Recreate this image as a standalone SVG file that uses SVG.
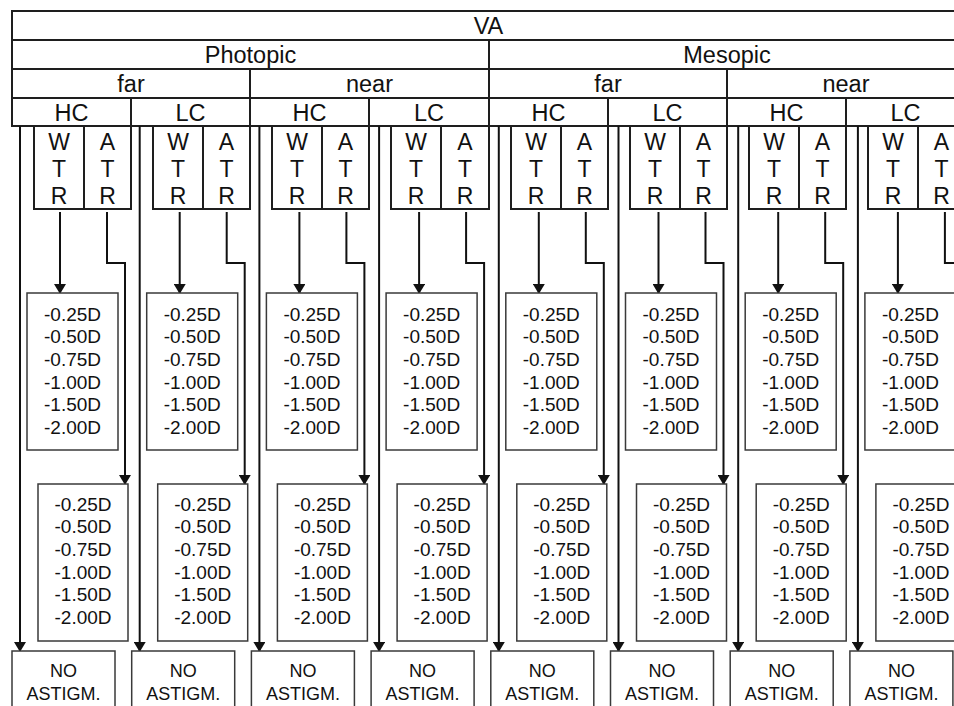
<svg xmlns="http://www.w3.org/2000/svg" width="954" height="706" viewBox="0 0 954 706">
<style>
text{font-family:"Liberation Sans",Arial,sans-serif;fill:#111;text-anchor:middle}
.h{font-size:23.5px}
.w{font-size:23px}
.r{font-size:19px}
.n{font-size:18px}
.hc{fill:#fff;stroke:#1e1e1e;stroke-width:2}
.wb{fill:#fff;stroke:#1e1e1e;stroke-width:2}
.rb{fill:#fff;stroke:#3a3a3a;stroke-width:1.5}
.c{fill:none;stroke:#111;stroke-width:2;marker-end:url(#ah)}
</style>
<defs>
<marker id="ah" viewBox="0 0 10 12" markerWidth="10" markerHeight="12" refX="9" refY="6" orient="auto" markerUnits="userSpaceOnUse">
<path d="M0,0 L10,6 L0,12 z" fill="#111"/>
</marker>
</defs>
<rect width="954" height="706" fill="#fff"/>

<g id="header">
<g id="h-va"><rect class="hc" x="12" y="11" width="953" height="29"/><text class="h" x="488.5" y="34">VA</text></g>
<g id="h-photopic"><rect class="hc" x="12" y="40" width="477" height="29"/><text class="h" x="250.5" y="63">Photopic</text></g>
<g id="h-mesopic"><rect class="hc" x="489" y="40" width="476" height="29"/><text class="h" x="727" y="63">Mesopic</text></g>
<g id="h-p-far"><rect class="hc" x="12" y="69" width="238" height="29"/><text class="h" x="131" y="92">far</text></g>
<g id="h-p-near"><rect class="hc" x="250" y="69" width="239" height="29"/><text class="h" x="369.5" y="92">near</text></g>
<g id="h-m-far"><rect class="hc" x="489" y="69" width="238" height="29"/><text class="h" x="608" y="92">far</text></g>
<g id="h-m-near"><rect class="hc" x="727" y="69" width="238" height="29"/><text class="h" x="846" y="92">near</text></g>
<g id="h-pf-hc"><rect class="hc" x="12" y="98" width="119" height="28"/><text class="h" x="71.5" y="120.5">HC</text></g>
<g id="h-pf-lc"><rect class="hc" x="131" y="98" width="119" height="28"/><text class="h" x="190.5" y="120.5">LC</text></g>
<g id="h-pn-hc"><rect class="hc" x="250" y="98" width="119" height="28"/><text class="h" x="309.5" y="120.5">HC</text></g>
<g id="h-pn-lc"><rect class="hc" x="369" y="98" width="120" height="28"/><text class="h" x="429" y="120.5">LC</text></g>
<g id="h-mf-hc"><rect class="hc" x="489" y="98" width="119" height="28"/><text class="h" x="548.5" y="120.5">HC</text></g>
<g id="h-mf-lc"><rect class="hc" x="608" y="98" width="119" height="28"/><text class="h" x="667.5" y="120.5">LC</text></g>
<g id="h-mn-hc"><rect class="hc" x="727" y="98" width="119" height="28"/><text class="h" x="786.5" y="120.5">HC</text></g>
<g id="h-mn-lc"><rect class="hc" x="846" y="98" width="119" height="28"/><text class="h" x="905.5" y="120.5">LC</text></g>
</g>

<g id="wtr-nodes">
<g id="wtr-1" transform="translate(12,0)"><rect class="wb" x="22" y="126" width="97" height="83"/><line x1="72" y1="126" x2="72" y2="209" stroke="#1e1e1e" stroke-width="2"/><text class="w" x="47" y="149.5">W</text><text class="w" x="47" y="176.5">T</text><text class="w" x="47" y="203.5">R</text><text class="w" x="95.5" y="149.5">A</text><text class="w" x="95.5" y="176.5">T</text><text class="w" x="95.5" y="203.5">R</text></g>
<g id="wtr-2" transform="translate(131,0)"><rect class="wb" x="22" y="126" width="97" height="83"/><line x1="72" y1="126" x2="72" y2="209" stroke="#1e1e1e" stroke-width="2"/><text class="w" x="47" y="149.5">W</text><text class="w" x="47" y="176.5">T</text><text class="w" x="47" y="203.5">R</text><text class="w" x="95.5" y="149.5">A</text><text class="w" x="95.5" y="176.5">T</text><text class="w" x="95.5" y="203.5">R</text></g>
<g id="wtr-3" transform="translate(250,0)"><rect class="wb" x="22" y="126" width="97" height="83"/><line x1="72" y1="126" x2="72" y2="209" stroke="#1e1e1e" stroke-width="2"/><text class="w" x="47" y="149.5">W</text><text class="w" x="47" y="176.5">T</text><text class="w" x="47" y="203.5">R</text><text class="w" x="95.5" y="149.5">A</text><text class="w" x="95.5" y="176.5">T</text><text class="w" x="95.5" y="203.5">R</text></g>
<g id="wtr-4" transform="translate(369,0)"><rect class="wb" x="22" y="126" width="98" height="83"/><line x1="72" y1="126" x2="72" y2="209" stroke="#1e1e1e" stroke-width="2"/><text class="w" x="47" y="149.5">W</text><text class="w" x="47" y="176.5">T</text><text class="w" x="47" y="203.5">R</text><text class="w" x="96" y="149.5">A</text><text class="w" x="96" y="176.5">T</text><text class="w" x="96" y="203.5">R</text></g>
<g id="wtr-5" transform="translate(489,0)"><rect class="wb" x="22" y="126" width="97" height="83"/><line x1="72" y1="126" x2="72" y2="209" stroke="#1e1e1e" stroke-width="2"/><text class="w" x="47" y="149.5">W</text><text class="w" x="47" y="176.5">T</text><text class="w" x="47" y="203.5">R</text><text class="w" x="95.5" y="149.5">A</text><text class="w" x="95.5" y="176.5">T</text><text class="w" x="95.5" y="203.5">R</text></g>
<g id="wtr-6" transform="translate(608,0)"><rect class="wb" x="22" y="126" width="97" height="83"/><line x1="72" y1="126" x2="72" y2="209" stroke="#1e1e1e" stroke-width="2"/><text class="w" x="47" y="149.5">W</text><text class="w" x="47" y="176.5">T</text><text class="w" x="47" y="203.5">R</text><text class="w" x="95.5" y="149.5">A</text><text class="w" x="95.5" y="176.5">T</text><text class="w" x="95.5" y="203.5">R</text></g>
<g id="wtr-7" transform="translate(727,0)"><rect class="wb" x="22" y="126" width="97" height="83"/><line x1="72" y1="126" x2="72" y2="209" stroke="#1e1e1e" stroke-width="2"/><text class="w" x="47" y="149.5">W</text><text class="w" x="47" y="176.5">T</text><text class="w" x="47" y="203.5">R</text><text class="w" x="95.5" y="149.5">A</text><text class="w" x="95.5" y="176.5">T</text><text class="w" x="95.5" y="203.5">R</text></g>
<g id="wtr-8" transform="translate(846,0)"><rect class="wb" x="22" y="126" width="97" height="83"/><line x1="72" y1="126" x2="72" y2="209" stroke="#1e1e1e" stroke-width="2"/><text class="w" x="47" y="149.5">W</text><text class="w" x="47" y="176.5">T</text><text class="w" x="47" y="203.5">R</text><text class="w" x="95.5" y="149.5">A</text><text class="w" x="95.5" y="176.5">T</text><text class="w" x="95.5" y="203.5">R</text></g>
</g>

<g id="connectors">
<g transform="translate(12,0)"><path class="c" d="M8,126 V651"/><path class="c" d="M48,212 V293"/><path class="c" d="M95,212 V263 H113 V484"/></g>
<g transform="translate(131.7,0)"><path class="c" d="M8,126 V651"/><path class="c" d="M48,212 V293"/><path class="c" d="M95,212 V263 H113 V484"/></g>
<g transform="translate(251.4,0)"><path class="c" d="M8,126 V651"/><path class="c" d="M48,212 V293"/><path class="c" d="M95,212 V263 H113 V484"/></g>
<g transform="translate(371.1,0)"><path class="c" d="M8,126 V651"/><path class="c" d="M48,212 V293"/><path class="c" d="M95,212 V263 H113 V484"/></g>
<g transform="translate(490.8,0)"><path class="c" d="M8,126 V651"/><path class="c" d="M48,212 V293"/><path class="c" d="M95,212 V263 H113 V484"/></g>
<g transform="translate(610.5,0)"><path class="c" d="M8,126 V651"/><path class="c" d="M48,212 V293"/><path class="c" d="M95,212 V263 H113 V484"/></g>
<g transform="translate(730.2,0)"><path class="c" d="M8,126 V651"/><path class="c" d="M48,212 V293"/><path class="c" d="M95,212 V263 H113 V484"/></g>
<g transform="translate(849.9,0)"><path class="c" d="M8,126 V651"/><path class="c" d="M48,212 V293"/><path class="c" d="M95,212 V263 H113 V484"/></g>
</g>

<g id="results">
<g id="res-w-1" transform="translate(12,0)"><rect class="rb" x="15" y="293" width="91" height="157"/><text class="r" x="60.5" y="320.8">-0.25D</text><text class="r" x="60.5" y="343.4">-0.50D</text><text class="r" x="60.5" y="366">-0.75D</text><text class="r" x="60.5" y="388.6">-1.00D</text><text class="r" x="60.5" y="411.2">-1.50D</text><text class="r" x="60.5" y="433.8">-2.00D</text></g>
<g id="res-a-1" transform="translate(12,0)"><rect class="rb" x="26" y="484" width="90" height="157"/><text class="r" x="71" y="510.8">-0.25D</text><text class="r" x="71" y="533.4">-0.50D</text><text class="r" x="71" y="556">-0.75D</text><text class="r" x="71" y="578.6">-1.00D</text><text class="r" x="71" y="601.2">-1.50D</text><text class="r" x="71" y="623.8">-2.00D</text></g>
<g id="no-1" transform="translate(12,0)"><rect class="rb" x="0" y="651" width="103" height="70"/><text class="n" x="51.5" y="676.5">NO</text><text class="n" x="51.5" y="699.5">ASTIGM.</text></g>

<g id="res-w-2" transform="translate(131.7,0)"><rect class="rb" x="15" y="293" width="91" height="157"/><text class="r" x="60.5" y="320.8">-0.25D</text><text class="r" x="60.5" y="343.4">-0.50D</text><text class="r" x="60.5" y="366">-0.75D</text><text class="r" x="60.5" y="388.6">-1.00D</text><text class="r" x="60.5" y="411.2">-1.50D</text><text class="r" x="60.5" y="433.8">-2.00D</text></g>
<g id="res-a-2" transform="translate(131.7,0)"><rect class="rb" x="26" y="484" width="90" height="157"/><text class="r" x="71" y="510.8">-0.25D</text><text class="r" x="71" y="533.4">-0.50D</text><text class="r" x="71" y="556">-0.75D</text><text class="r" x="71" y="578.6">-1.00D</text><text class="r" x="71" y="601.2">-1.50D</text><text class="r" x="71" y="623.8">-2.00D</text></g>
<g id="no-2" transform="translate(131.7,0)"><rect class="rb" x="0" y="651" width="103" height="70"/><text class="n" x="51.5" y="676.5">NO</text><text class="n" x="51.5" y="699.5">ASTIGM.</text></g>

<g id="res-w-3" transform="translate(251.4,0)"><rect class="rb" x="15" y="293" width="91" height="157"/><text class="r" x="60.5" y="320.8">-0.25D</text><text class="r" x="60.5" y="343.4">-0.50D</text><text class="r" x="60.5" y="366">-0.75D</text><text class="r" x="60.5" y="388.6">-1.00D</text><text class="r" x="60.5" y="411.2">-1.50D</text><text class="r" x="60.5" y="433.8">-2.00D</text></g>
<g id="res-a-3" transform="translate(251.4,0)"><rect class="rb" x="26" y="484" width="90" height="157"/><text class="r" x="71" y="510.8">-0.25D</text><text class="r" x="71" y="533.4">-0.50D</text><text class="r" x="71" y="556">-0.75D</text><text class="r" x="71" y="578.6">-1.00D</text><text class="r" x="71" y="601.2">-1.50D</text><text class="r" x="71" y="623.8">-2.00D</text></g>
<g id="no-3" transform="translate(251.4,0)"><rect class="rb" x="0" y="651" width="103" height="70"/><text class="n" x="51.5" y="676.5">NO</text><text class="n" x="51.5" y="699.5">ASTIGM.</text></g>

<g id="res-w-4" transform="translate(371.1,0)"><rect class="rb" x="15" y="293" width="91" height="157"/><text class="r" x="60.5" y="320.8">-0.25D</text><text class="r" x="60.5" y="343.4">-0.50D</text><text class="r" x="60.5" y="366">-0.75D</text><text class="r" x="60.5" y="388.6">-1.00D</text><text class="r" x="60.5" y="411.2">-1.50D</text><text class="r" x="60.5" y="433.8">-2.00D</text></g>
<g id="res-a-4" transform="translate(371.1,0)"><rect class="rb" x="26" y="484" width="90" height="157"/><text class="r" x="71" y="510.8">-0.25D</text><text class="r" x="71" y="533.4">-0.50D</text><text class="r" x="71" y="556">-0.75D</text><text class="r" x="71" y="578.6">-1.00D</text><text class="r" x="71" y="601.2">-1.50D</text><text class="r" x="71" y="623.8">-2.00D</text></g>
<g id="no-4" transform="translate(371.1,0)"><rect class="rb" x="0" y="651" width="103" height="70"/><text class="n" x="51.5" y="676.5">NO</text><text class="n" x="51.5" y="699.5">ASTIGM.</text></g>

<g id="res-w-5" transform="translate(490.8,0)"><rect class="rb" x="15" y="293" width="91" height="157"/><text class="r" x="60.5" y="320.8">-0.25D</text><text class="r" x="60.5" y="343.4">-0.50D</text><text class="r" x="60.5" y="366">-0.75D</text><text class="r" x="60.5" y="388.6">-1.00D</text><text class="r" x="60.5" y="411.2">-1.50D</text><text class="r" x="60.5" y="433.8">-2.00D</text></g>
<g id="res-a-5" transform="translate(490.8,0)"><rect class="rb" x="26" y="484" width="90" height="157"/><text class="r" x="71" y="510.8">-0.25D</text><text class="r" x="71" y="533.4">-0.50D</text><text class="r" x="71" y="556">-0.75D</text><text class="r" x="71" y="578.6">-1.00D</text><text class="r" x="71" y="601.2">-1.50D</text><text class="r" x="71" y="623.8">-2.00D</text></g>
<g id="no-5" transform="translate(490.8,0)"><rect class="rb" x="0" y="651" width="103" height="70"/><text class="n" x="51.5" y="676.5">NO</text><text class="n" x="51.5" y="699.5">ASTIGM.</text></g>

<g id="res-w-6" transform="translate(610.5,0)"><rect class="rb" x="15" y="293" width="91" height="157"/><text class="r" x="60.5" y="320.8">-0.25D</text><text class="r" x="60.5" y="343.4">-0.50D</text><text class="r" x="60.5" y="366">-0.75D</text><text class="r" x="60.5" y="388.6">-1.00D</text><text class="r" x="60.5" y="411.2">-1.50D</text><text class="r" x="60.5" y="433.8">-2.00D</text></g>
<g id="res-a-6" transform="translate(610.5,0)"><rect class="rb" x="26" y="484" width="90" height="157"/><text class="r" x="71" y="510.8">-0.25D</text><text class="r" x="71" y="533.4">-0.50D</text><text class="r" x="71" y="556">-0.75D</text><text class="r" x="71" y="578.6">-1.00D</text><text class="r" x="71" y="601.2">-1.50D</text><text class="r" x="71" y="623.8">-2.00D</text></g>
<g id="no-6" transform="translate(610.5,0)"><rect class="rb" x="0" y="651" width="103" height="70"/><text class="n" x="51.5" y="676.5">NO</text><text class="n" x="51.5" y="699.5">ASTIGM.</text></g>

<g id="res-w-7" transform="translate(730.2,0)"><rect class="rb" x="15" y="293" width="91" height="157"/><text class="r" x="60.5" y="320.8">-0.25D</text><text class="r" x="60.5" y="343.4">-0.50D</text><text class="r" x="60.5" y="366">-0.75D</text><text class="r" x="60.5" y="388.6">-1.00D</text><text class="r" x="60.5" y="411.2">-1.50D</text><text class="r" x="60.5" y="433.8">-2.00D</text></g>
<g id="res-a-7" transform="translate(730.2,0)"><rect class="rb" x="26" y="484" width="90" height="157"/><text class="r" x="71" y="510.8">-0.25D</text><text class="r" x="71" y="533.4">-0.50D</text><text class="r" x="71" y="556">-0.75D</text><text class="r" x="71" y="578.6">-1.00D</text><text class="r" x="71" y="601.2">-1.50D</text><text class="r" x="71" y="623.8">-2.00D</text></g>
<g id="no-7" transform="translate(730.2,0)"><rect class="rb" x="0" y="651" width="103" height="70"/><text class="n" x="51.5" y="676.5">NO</text><text class="n" x="51.5" y="699.5">ASTIGM.</text></g>

<g id="res-w-8" transform="translate(849.9,0)"><rect class="rb" x="15" y="293" width="91" height="157"/><text class="r" x="60.5" y="320.8">-0.25D</text><text class="r" x="60.5" y="343.4">-0.50D</text><text class="r" x="60.5" y="366">-0.75D</text><text class="r" x="60.5" y="388.6">-1.00D</text><text class="r" x="60.5" y="411.2">-1.50D</text><text class="r" x="60.5" y="433.8">-2.00D</text></g>
<g id="res-a-8" transform="translate(849.9,0)"><rect class="rb" x="26" y="484" width="90" height="157"/><text class="r" x="71" y="510.8">-0.25D</text><text class="r" x="71" y="533.4">-0.50D</text><text class="r" x="71" y="556">-0.75D</text><text class="r" x="71" y="578.6">-1.00D</text><text class="r" x="71" y="601.2">-1.50D</text><text class="r" x="71" y="623.8">-2.00D</text></g>
<g id="no-8" transform="translate(849.9,0)"><rect class="rb" x="0" y="651" width="103" height="70"/><text class="n" x="51.5" y="676.5">NO</text><text class="n" x="51.5" y="699.5">ASTIGM.</text></g>
</g>
</svg>
